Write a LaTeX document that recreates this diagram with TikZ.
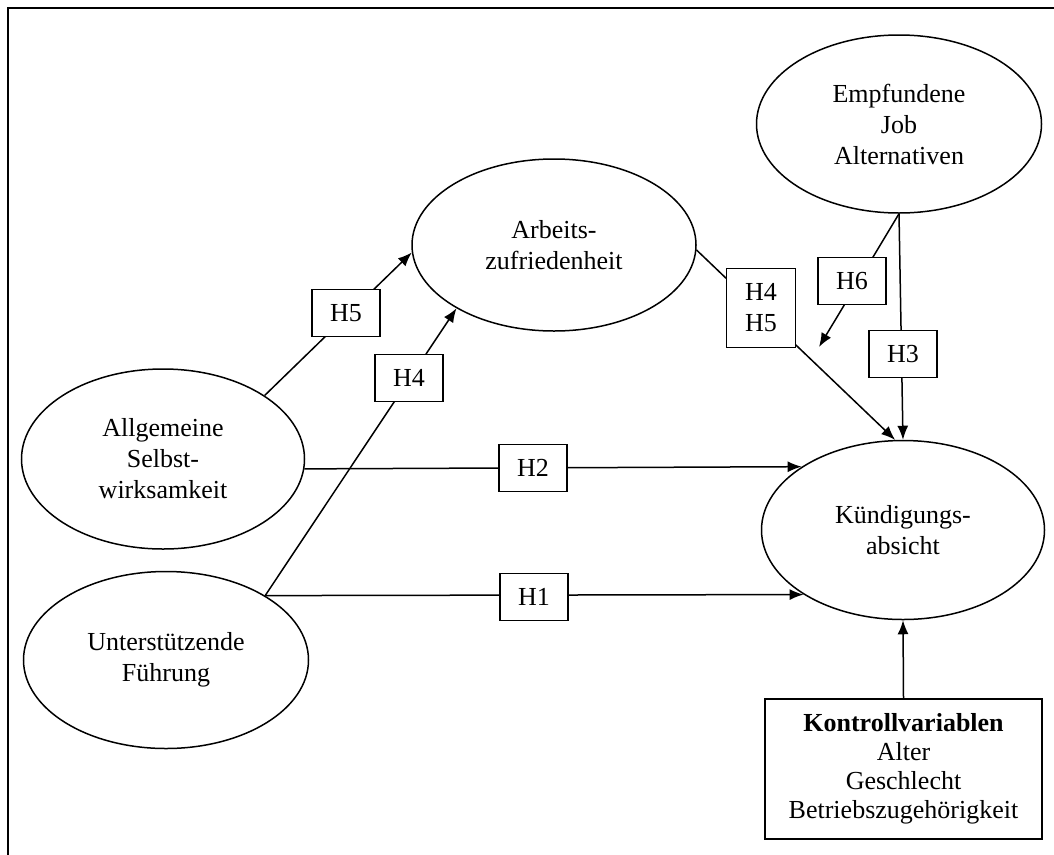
\documentclass[tikz,border=0pt]{standalone}
\usepackage{fontspec}
\setmainfont{Liberation Serif}
\usetikzlibrary{shapes.geometric,arrows.meta}
\begin{document}
\begin{tikzpicture}[x=1pt,y=-1pt,
  every node/.style={font=\fontsize{26}{31}\selectfont},
  latent/.style={draw, ellipse, line width=1.5pt, inner sep=0pt, align=center},
  hyp/.style={draw, fill=white, line width=1.5pt, inner sep=0pt, minimum width=68pt, minimum height=47pt, align=center},
  conn/.style={line width=1.5pt},
  arr/.style={conn, -{Latex[length=14pt,width=11pt]}},
  ctrl/.style={draw, fill=white, line width=1.6pt, inner sep=0pt, minimum width=277pt, minimum height=140pt, align=center, font=\fontsize{26}{29}\selectfont}
]
\useasboundingbox (0,0) rectangle (1054,854);
\begin{scope}
  \clip (0,0) rectangle (1054,854);
  \draw[line width=2pt] (8,870) -- (8,8) -- (1070,8);
\end{scope}

% latent variables
\node[latent, minimum width=283pt, minimum height=180pt] (A) at (163,459) {Allgemeine\\Selbst-\\wirksamkeit};
\node[latent, minimum width=285pt, minimum height=177pt] (F) at (166,660) {Unterstützende\\Führung};
\node[latent, minimum width=284pt, minimum height=172pt] (Z) at (554,245) {Arbeits-\\zufriedenheit};
\node[latent, minimum width=285pt, minimum height=178pt] (E) at (899,124) {Empfundene\\Job\\Alternativen};
\node[latent, minimum width=283pt, minimum height=179pt] (K) at (903,530) {Kündigungs-\\absicht};
\node[ctrl] (C) at (903.5,769) {\textbf{Kontrollvariablen}\\Alter\\Geschlecht\\Betriebszugehörigkeit};

% connectors
\coordinate (h6end) at (819,347);
\draw[arr] (A.32) -- (Z.183);
\draw[arr] (F.33) -- (Z.213);
\draw[arr] (A.-4) -- (K.148);
\draw[arr] (F.33) -- (K.213);
\draw[arr] (Z.-2) -- (K.95);
\draw[arr] (E.south) -- (K.north);
\draw[arr] (E.south) -- (h6end);
\draw[arr] (C.north) -- (K.south);

% hypothesis labels
\node[hyp] (h5) at (346,313) {H5};
\node[hyp] (h4) at (409,378) {H4};
\node[hyp] (h2) at (533,468) {H2};
\node[hyp] (h1) at (534,597) {H1};
\node[hyp, minimum width=69pt, minimum height=79pt] (h45) at (761,308) {H4\\H5};
\node[hyp] (h6) at (852,281) {H6};
\node[hyp] (h3) at (903,354) {H3};
\end{tikzpicture}
\end{document}
